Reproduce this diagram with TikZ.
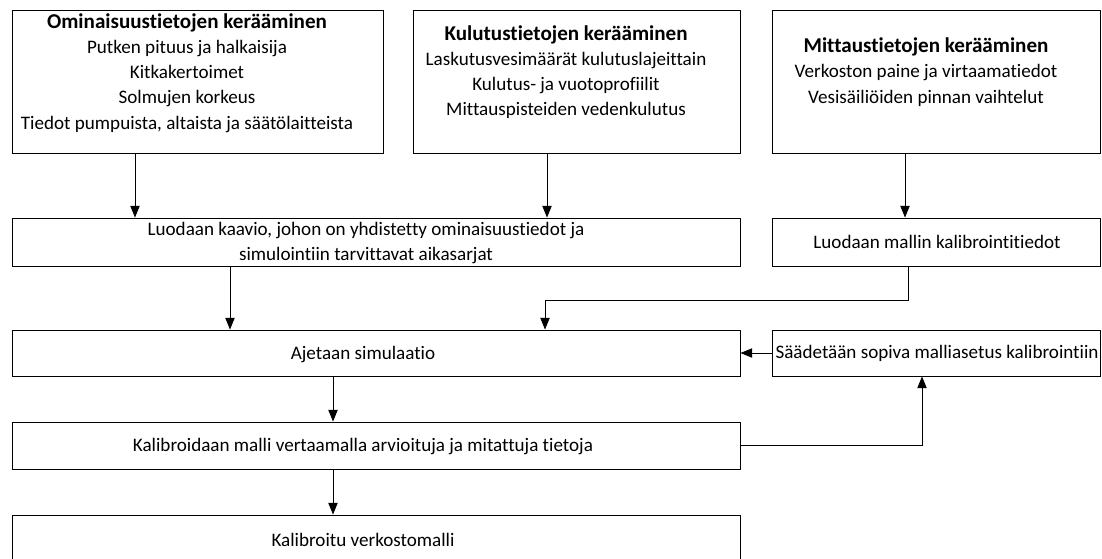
\documentclass[tikz,border=0pt]{standalone}
\usepackage{fontspec}
\setmainfont{Carlito}[Ligatures=NoCommon]
\usetikzlibrary{arrows.meta}
\newcommand{\otsikko}[1]{{\fontsize{18}{21.3}\selectfont\bfseries #1}}

\begin{document}
\begin{tikzpicture}[x=0.03cm, y=-0.03cm, >={Triangle[length=10pt, width=8pt]},
box/.style 2 args={draw, line width=.8pt, inner sep=0pt, minimum width=#1*0.03cm, minimum height=#2*0.03cm},
txt/.style={align=center, inner sep=0pt, font=\fontsize{16.3}{21.5}\selectfont},
flow/.style={->, line width=.7pt}]

%%%%%% KEHYS %%%%%%%%%%

\useasboundingbox (0,0) rectangle (1102,558);
\clip (0,0) rectangle (1102,558);

%%%%%% LAATIKOT %%%%%%%%%%

\node[box={371}{143}] (omin) at (197.5,81.5) {};
\node[box={327}{143}] (kulu) at (576.5,81.5) {};
\node[box={328}{143}] (mitt) at (936,81.5) {};

\node[box={728}{48}] (kaavio) at (376,242) {};
\node[box={328}{48}] (kalib) at (936,242) {};
\node[box={728}{46}] (ajo) at (376,353) {};
\node[box={328}{46}] (saato) at (936,353) {};
\node[box={728}{47}] (vert) at (376,445.5) {};
\node[box={728}{60}] (valmis) at (376,545) {};

%%%%%% TEKSTIT %%%%%%%%%%

\node[txt] (omin-t) at (187,73) {\otsikko{Ominaisuustietojen kerääminen}\\Putken pituus ja halkaisija\\Kitkakertoimet\\Solmujen korkeus\\Tiedot pumpuista, altaista ja säätölaitteista};
\node[txt] (kulu-t) at (566,72) {\otsikko{Kulutustietojen kerääminen}\\Laskutusvesimäärät kulutuslajeittain\\Kulutus- ja vuotoprofiilit\\Mittauspisteiden vedenkulutus};
\node[txt] (mitt-t) at (926,72) {\otsikko{Mittaustietojen kerääminen}\\Verkoston paine ja virtaamatiedot\\Vesisäiliöiden pinnan vaihtelut};

\node[txt] (kaavio-t) at (366,243) {Luodaan kaavio, johon on yhdistetty ominaisuustiedot ja\\simulointiin tarvittavat aikasarjat};
\node[txt] (kalib-t) at (937,242) {Luodaan mallin kalibrointitiedot};
\node[txt] (ajo-t) at (363,354) {Ajetaan simulaatio};
\node[txt] (saato-t) at (937,353) {Säädetään sopiva malliasetus kalibrointiin};
\node[txt] (vert-t) at (363,446) {Kalibroidaan malli vertaamalla arvioituja ja mitattuja tietoja};
\node[txt] (valmis-t) at (363,540) {Kalibroitu verkostomalli};

%%%%%% NUOLET %%%%%%%%%%

\foreach \x/\a/\b in {135/omin/kaavio, 547/kulu/kaavio, 905/mitt/kalib, 230/kaavio/ajo, 333/ajo/vert, 333/vert/valmis}
  {\draw[flow] (\x,0 |- \a.south) -- (\x,0 |- \b.north);}

\coordinate (mutka) at (545,300);
\draw[flow] (908,0 |- kalib.south) |- (mutka) -- (mutka |- ajo.north);
\draw[flow] (saato.west) -- (ajo.east);
\draw[flow] (vert.east) -| (922,0 |- saato.south);

\end{tikzpicture}
\end{document}
